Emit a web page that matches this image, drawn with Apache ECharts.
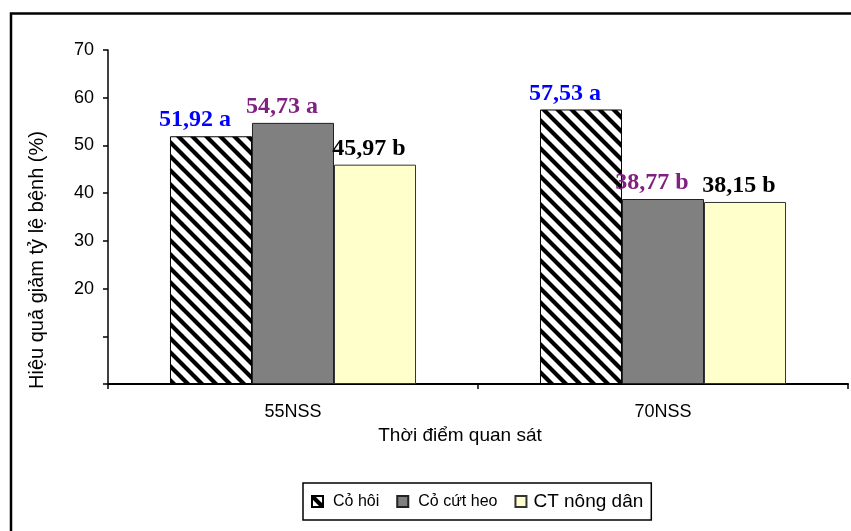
<!DOCTYPE html>
<html>
<head>
<meta charset="utf-8">
<script src="https://cdn.jsdelivr.net/npm/echarts@6/dist/echarts.min.js"></script>
<style>
  html, body { margin: 0; padding: 0; background: #fff; }
  #chart { width: 851px; height: 531px; }
</style>
</head>
<body>
<div id="chart"></div>
<script>
// Observation times and treatment results (% reduction in disease incidence)
const categories = ['55NSS', '70NSS'];
const seriesNames = ['Cỏ hôi', 'Cỏ cứt heo', 'CT nông dân'];
const coHoi = [51.92, 57.53];
const coCutHeo = [54.73, 38.77];
const ctNongDan = [45.97, 38.15];
// Statistical grouping letters shown next to each value
const coHoiLetters = ['a', 'a'];
const coCutHeoLetters = ['a', 'b'];
const ctNongDanLetters = ['b', 'b'];
const yTicks = [20, 30, 40, 50, 60, 70];

// Diagonal black/white stripe tile for the first series
function stripeTile(p, w) {
  const c = document.createElement('canvas');
  c.width = p; c.height = p;
  const g = c.getContext('2d');
  g.fillStyle = '#fff';
  g.fillRect(0, 0, p, p);
  g.strokeStyle = '#000';
  g.lineWidth = w;
  g.lineCap = 'square';
  for (const off of [-p, 0, p]) {
    g.beginPath();
    g.moveTo(off - 2, -2);
    g.lineTo(off + p + 2, p + 2);
    g.stroke();
  }
  return c;
}
const hatch = { image: stripeTile(14, 4.2), repeat: 'repeat' };

function fmt(v) { return v.toFixed(2).replace('.', ','); }

function labelFor(values, letters, color, dx) {
  return {
    show: true,
    position: 'top',
    distance: 4,
    offset: [dx, 0],
    color: color,
    fontFamily: '"Liberation Serif", "Times New Roman", serif',
    fontWeight: 'bold',
    fontSize: 24,
    formatter: p => fmt(values[p.dataIndex]) + ' ' + letters[p.dataIndex]
  };
}

const sans = '"Liberation Sans", Arial, sans-serif';
const chart = echarts.init(document.getElementById('chart'), null, { renderer: 'canvas' });

chart.setOption({
  backgroundColor: '#fff',
  animation: false,
  grid: { left: 108, right: 3, top: 50, bottom: 147, containLabel: false },
  legend: {
    left: 303,
    top: 483,
    orient: 'horizontal',
    borderColor: '#000',
    borderWidth: 1.5,
    padding: [9, 8, 9, 8],
    itemGap: 17,
    itemWidth: 11,
    itemHeight: 11,
    icon: 'rect',
    textStyle: { fontFamily: sans, fontSize: 16, color: '#000', padding: [9, 0, 0, 5] },
    data: [
      { name: seriesNames[0] },
      { name: seriesNames[1] },
      { name: seriesNames[2], textStyle: { fontSize: 19, padding: [0, 0, 0, 2] } }
    ]
  },
  xAxis: {
    type: 'category',
    data: categories,
    name: 'Thời điểm quan sát',
    nameLocation: 'middle',
    nameGap: 42,
    nameTextStyle: { fontFamily: sans, fontSize: 19, color: '#000', padding: [0, 36, 0, 0] },
    axisLine: { lineStyle: { color: '#000', width: 2 } },
    axisTick: { show: true, length: 5, lineStyle: { color: '#000', width: 1.5 } },
    axisLabel: { fontFamily: sans, fontSize: 18, color: '#000', margin: 19 }
  },
  yAxis: {
    type: 'value',
    min: 0,
    max: 70,
    interval: 10,
    name: 'Hiệu quả giảm tỷ lệ bệnh (%)',
    nameLocation: 'middle',
    nameRotate: 90,
    nameGap: 61,
    nameTextStyle: { fontFamily: sans, fontSize: 20, color: '#000', padding: [0, 86, 0, 0] },
    splitLine: { show: false },
    axisLine: { show: true, lineStyle: { color: '#000', width: 1.5 } },
    axisTick: { show: true, length: 5, lineStyle: { color: '#000', width: 1.5 } },
    axisLabel: {
      fontFamily: sans, fontSize: 18, color: '#000', margin: 14,
      formatter: v => (yTicks.indexOf(v) >= 0 ? String(v) : '')
    }
  },
  series: [
    {
      name: seriesNames[0],
      type: 'bar',
      data: coHoi,
      barGap: '0%',
      barCategoryGap: '33.5%',
      itemStyle: { color: hatch, borderColor: '#000', borderWidth: 1 },
      label: labelFor(coHoi, coHoiLetters, '#0000ff', -16)
    },
    {
      name: seriesNames[1],
      type: 'bar',
      data: coCutHeo,
      itemStyle: { color: '#808080', borderColor: '#222', borderWidth: 1 },
      label: labelFor(coCutHeo, coCutHeoLetters, '#802080', -11)
    },
    {
      name: seriesNames[2],
      type: 'bar',
      data: ctNongDan,
      itemStyle: { color: '#ffffcc', borderColor: '#333', borderWidth: 1 },
      label: labelFor(ctNongDan, ctNongDanLetters, '#000', -6)
    }
  ],
  graphic: [
    {
      type: 'rect',
      silent: true,
      shape: { x: 11, y: 13.5, width: 900, height: 600 },
      style: { fill: null, stroke: '#000', lineWidth: 2.5 }
    }
  ]
});
</script>
</body>
</html>
